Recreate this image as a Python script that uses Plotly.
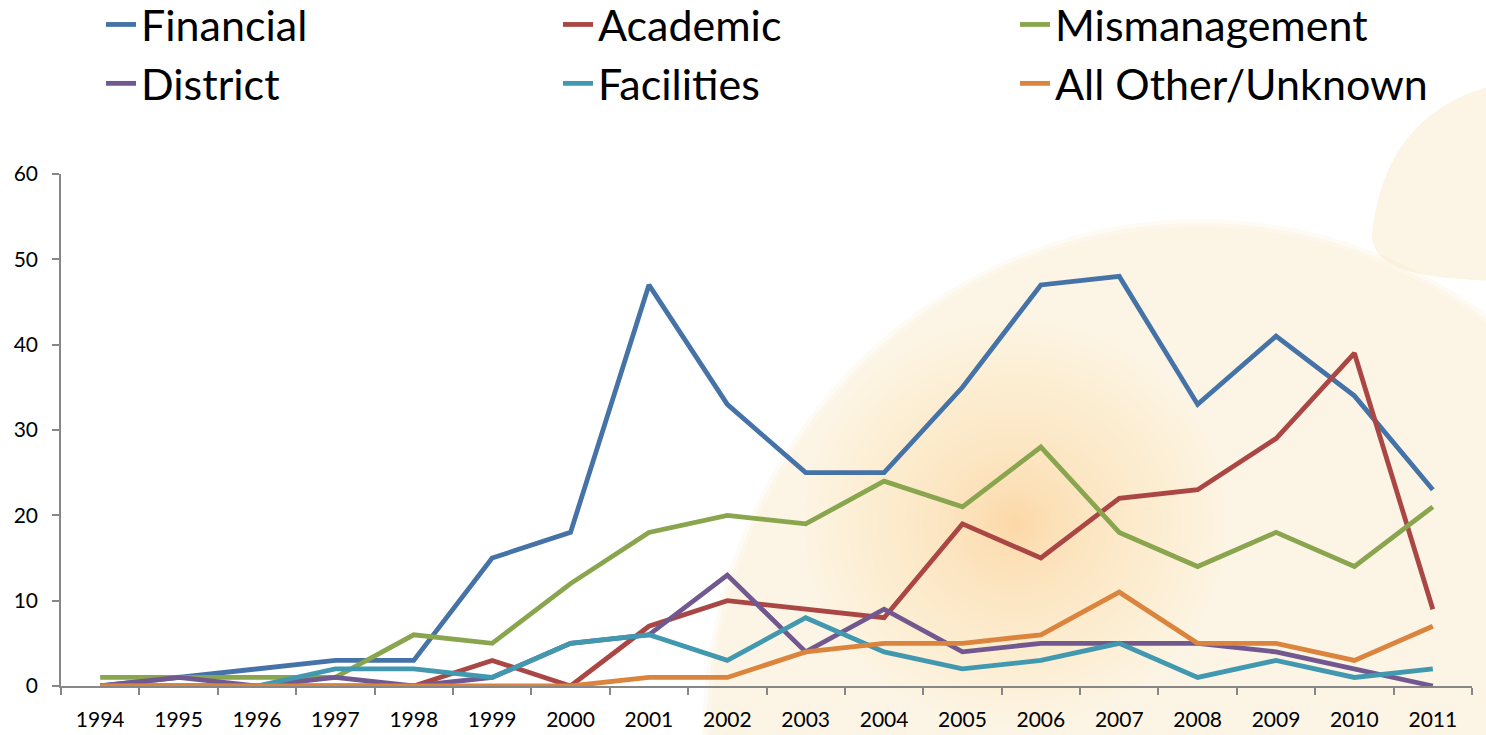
import plotly.graph_objects as go

years = [str(y) for y in range(1994, 2012)]
financial = [0, 1, 2, 3, 3, 15, 18, 47, 33, 25, 25, 35, 47, 48, 33, 41, 34, 23]
academic = [0, 0, 0, 0, 0, 3, 0, 7, 10, 9, 8, 19, 15, 22, 23, 29, 39, 9]
mismanagement = [1, 1, 1, 1, 6, 5, 12, 18, 20, 19, 24, 21, 28, 18, 14, 18, 14, 21]
district = [0, 1, 0, 1, 0, 1, 5, 6, 13, 4, 9, 4, 5, 5, 5, 4, 2, 0]
facilities = [0, 0, 0, 2, 2, 1, 5, 6, 3, 8, 4, 2, 3, 5, 1, 3, 1, 2]
other = [0, 0, 0, 0, 0, 0, 0, 1, 1, 4, 5, 5, 6, 11, 5, 5, 3, 7]

series = [
    ("Financial", financial, "#4572A7"),
    ("Academic", academic, "#AA4643"),
    ("Mismanagement", mismanagement, "#89A54E"),
    ("District", district, "#71588F"),
    ("Facilities", facilities, "#4198AF"),
    ("All Other/Unknown", other, "#DB843D"),
]

W, H = 1486, 735
L, R, T, B = 61, 14, 174, 49
PW, PH = W - L - R, H - T - B


def px(x):
    return (x - L) / PW


def py(y):
    return (H - B - y) / PH


fig = go.Figure()
for name, vals, col in series:
    fig.add_trace(go.Scatter(x=years, y=vals, name=name, mode="lines",
                             line=dict(color=col, width=4.8)))

shapes = []


def ellipse(cx, cy, rx, ry, fill):
    shapes.append(dict(type="circle", xref="paper", yref="paper",
                       x0=px(cx - rx), x1=px(cx + rx), y0=py(cy + ry), y1=py(cy - ry),
                       fillcolor=fill, line=dict(width=0), layer="below"))


CREAM = "rgba(252,236,200,0.2)"
# big pale disc with soft edge
for d in (8, 4, 0):
    ellipse(1200, 740, 490 + d, 513 + d, CREAM)

# top-right pale shape
path = "M {:.4f},{:.4f} Q {:.4f},{:.4f} {:.4f},{:.4f} Q {:.4f},{:.4f} {:.4f},{:.4f} L {:.4f},{:.4f} Z".format(
    px(1500), py(84), px(1385), py(110), px(1372), py(235),
    px(1372), py(272), px(1450), py(278), px(1500), py(282))
for i in range(3):
    shapes.append(dict(type="path", xref="paper", yref="paper", path=path,
                       fillcolor=CREAM, line=dict(width=0), layer="below"))

# warm glow (denser layers toward the centre)
N = 30
for k in range(N, 0, -1):
    r = 210 * (k / N) ** 1.6
    ellipse(1015, 523, r, r * 0.95, "rgba(250,206,115,0.025)")

fig.update_layout(
    width=W, height=H,
    margin=dict(l=L, r=R, t=T, b=B, autoexpand=False),
    paper_bgcolor="white",
    plot_bgcolor="rgba(0,0,0,0)",
    shapes=shapes,
    font=dict(family="Lato", color="black"),
    showlegend=True,
    legend=dict(orientation="h", x=px(101), xanchor="left",
                y=py(-10), yanchor="top",
                font=dict(family="Lato", size=43, color="black"),
                entrywidth=412, entrywidthmode="pixels", tracegroupgap=0,
                bgcolor="rgba(0,0,0,0)", itemwidth=30),
    xaxis=dict(type="category", tickson="boundaries", ticks="outside", ticklen=7,
               tickcolor="#878787", tickwidth=1.5, showline=True, linecolor="#878787",
               linewidth=1.5, showgrid=False, tickfont=dict(family="Lato", size=21),
               ticklabelstandoff=14, range=[-0.5, 17.5]),
    yaxis=dict(range=[0, 60], dtick=10, ticks="outside", ticklen=7, tickcolor="#878787",
               tickwidth=1.5, showline=True, linecolor="#878787", linewidth=1.5,
               showgrid=False, zeroline=False, tickfont=dict(family="Lato", size=21),
               ticklabelstandoff=10),
)

fig.write_html("out.html", config={"displayModeBar": False},
               post_script="document.body.style.margin='0';")
